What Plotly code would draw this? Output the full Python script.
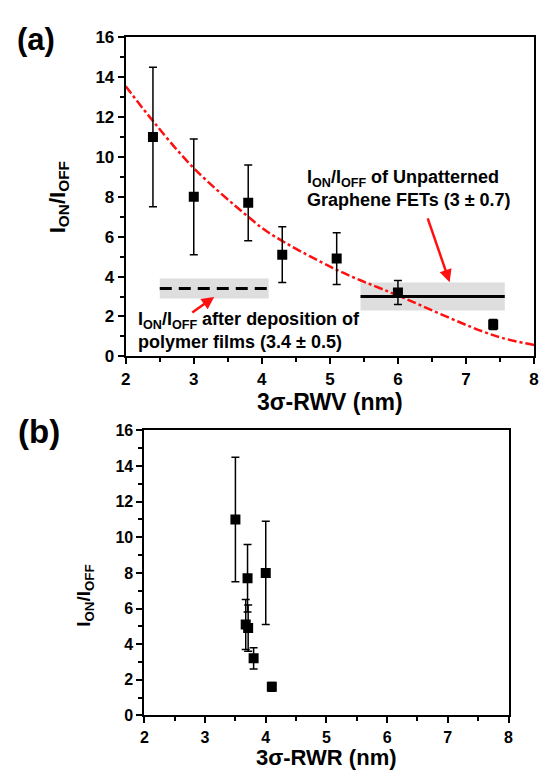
import plotly.graph_objects as go

# ---- data: panel (a), on/off ratio vs 3σ line-width variation ----
rwv = [2.4, 3.0, 3.8, 4.3, 5.1, 6.0, 7.4]
ratio = [11.0, 8.0, 7.7, 5.1, 4.9, 3.2, 1.6]
ratio_err = [3.5, 2.9, 1.9, 1.4, 1.3, 0.6, 0.25]

# decay guide curve (sampled)
fit_x = [2.0, 2.4, 3.0, 3.8, 4.12, 5.1, 6.0, 7.4, 8.0]
fit_y = [13.55, 11.8, 9.44, 7.0, 6.16, 4.34, 3.05, 1.06, 0.57]

# reference levels: mean ± spread, and their x span
polymer_mean, polymer_sd = 3.4, 0.5
polymer_span = [2.5, 4.1]
unpat_mean, unpat_sd = 3.0, 0.7
unpat_span = [5.45, 7.57]

# ---- data: panel (b), on/off ratio vs 3σ line-width roughness ----
rwr = [3.5, 4.0, 3.7, 3.67, 3.71, 3.8, 4.1]

# axis ticks
x_ticks = [2, 3, 4, 5, 6, 7, 8]
y_ticks = [0, 2, 4, 6, 8, 10, 12, 14, 16]

FONT = "Liberation Sans, Arial, sans-serif"
RED = "#ff1010"

fig = go.Figure()

err_style = dict(type="data", symmetric=True, color="black", thickness=1.5, width=4)
marker_style = dict(symbol="square", size=10, color="black")

fig.add_trace(go.Scatter(
    x=fit_x, y=fit_y, mode="lines", line=dict(color=RED, width=2.5, dash="dashdot", shape="spline"),
    xaxis="x", yaxis="y", showlegend=False, hoverinfo="skip"))

# polymer-film level
fig.add_trace(go.Scatter(
    x=polymer_span, y=[polymer_mean, polymer_mean], mode="lines",
    line=dict(color="black", width=3, dash="12px,7px"), xaxis="x", yaxis="y", showlegend=False))
# unpatterned level
fig.add_trace(go.Scatter(
    x=unpat_span, y=[unpat_mean, unpat_mean], mode="lines",
    line=dict(color="black", width=3), xaxis="x", yaxis="y", showlegend=False))

fig.add_trace(go.Scatter(
    x=rwv, y=ratio, mode="markers", marker=marker_style,
    error_y=dict(array=ratio_err, **err_style), xaxis="x", yaxis="y", showlegend=False))

fig.add_trace(go.Scatter(
    x=rwr, y=ratio, mode="markers", marker=marker_style,
    error_y=dict(array=ratio_err, **err_style), xaxis="x2", yaxis="y2", showlegend=False))

band_fill = "#dedede"
shapes = [
    dict(type="rect", xref="x", yref="y", layer="below", line=dict(width=0), fillcolor=band_fill,
         x0=polymer_span[0], x1=polymer_span[1],
         y0=polymer_mean - polymer_sd, y1=polymer_mean + polymer_sd),
    dict(type="rect", xref="x", yref="y", layer="below", line=dict(width=0), fillcolor=band_fill,
         x0=unpat_span[0], x1=unpat_span[1],
         y0=unpat_mean - unpat_sd, y1=unpat_mean + unpat_sd),
]

def axis_common(tick_size, vals, minor_step):
    return dict(
        showline=True, linecolor="black", linewidth=2, mirror=True,
        ticks="outside", ticklen=6, tickwidth=2, tickcolor="black",
        showgrid=False, zeroline=False,
        tickmode="array", tickvals=vals, ticktext=[f"<b>{v}</b>" for v in vals],
        tickfont=dict(family=FONT, size=tick_size, color="black", weight="bold"),
        minor=dict(ticks="outside", ticklen=4, tickwidth=1.5, dtick=minor_step, tickcolor="black"),
    )

W, H = 541, 779
def px(x):
    return x / W
def py(y):
    return 1 - y / H

fig.update_layout(
    width=W, height=H, margin=dict(l=0, r=0, t=0, b=0),
    paper_bgcolor="white", plot_bgcolor="white",
    xaxis=dict(domain=[px(123), px(539)], range=[2, 8], anchor="y", **axis_common(17, x_ticks, 0.5)),
    yaxis=dict(domain=[py(356), py(29)], range=[0, 16], anchor="x", **axis_common(17, y_ticks, 1)),
    xaxis2=dict(domain=[px(142), px(513)], range=[2, 8], anchor="y2", **axis_common(16, x_ticks, 0.5)),
    yaxis2=dict(domain=[py(724), py(432)], range=[0, 16], anchor="x2", **axis_common(16, y_ticks, 1)),
    shapes=shapes,
)

bold = dict(family=FONT, color="black", weight="bold")
ratio_label = "I<sub>ON</sub>/I<sub>OFF</sub>"
ann = [
    # panel tags
    dict(text="(a)", x=px(10), y=py(31), xanchor="left", yanchor="middle", font=dict(size=31, **bold)),
    dict(text="(b)", x=px(11), y=py(433), xanchor="left", yanchor="middle", font=dict(size=33, **bold)),
    # axis titles
    dict(text="3σ-RWV (nm)", x=px(331), y=py(403), xanchor="center", yanchor="middle", font=dict(size=23, **bold)),
    dict(text=ratio_label, x=px(55), y=py(193), textangle=-90, xanchor="center", yanchor="middle",
         font=dict(size=22, **bold)),
    dict(text="3σ-RWR (nm)", x=px(328), y=py(767), xanchor="center", yanchor="middle", font=dict(size=22, **bold)),
    dict(text=ratio_label, x=px(82), y=py(601), textangle=-90, xanchor="center", yanchor="middle",
         font=dict(size=19, **bold)),
    # level descriptions
    dict(text=ratio_label + " of Unpatterned<br>Graphene FETs (3 ± 0.7)", x=px(306), y=py(184),
         xanchor="left", yanchor="middle", align="left", font=dict(size=18, **bold)),
    dict(text=ratio_label + " after deposition of<br>polymer films (3.4 ± 0.5)", x=px(133), y=py(330),
         xanchor="left", yanchor="middle", align="left", font=dict(size=18, **bold)),
]
for a in ann:
    a.update(xref="paper", yref="paper", showarrow=False)

# red pointer arrows
ann += [
    dict(x=6.76, y=3.72, ax=6.43, ay=6.99, xref="x", yref="y", axref="x", ayref="y",
         showarrow=True, arrowhead=2, arrowsize=1, arrowwidth=2.5, arrowcolor=RED, text=""),
    dict(x=3.30, y=2.98, ax=2.956, ay=2.14, xref="x", yref="y", axref="x", ayref="y",
         showarrow=True, arrowhead=2, arrowsize=1, arrowwidth=2.5, arrowcolor=RED, text=""),
]
fig.update_layout(annotations=ann)

fig.write_html("out.html")
